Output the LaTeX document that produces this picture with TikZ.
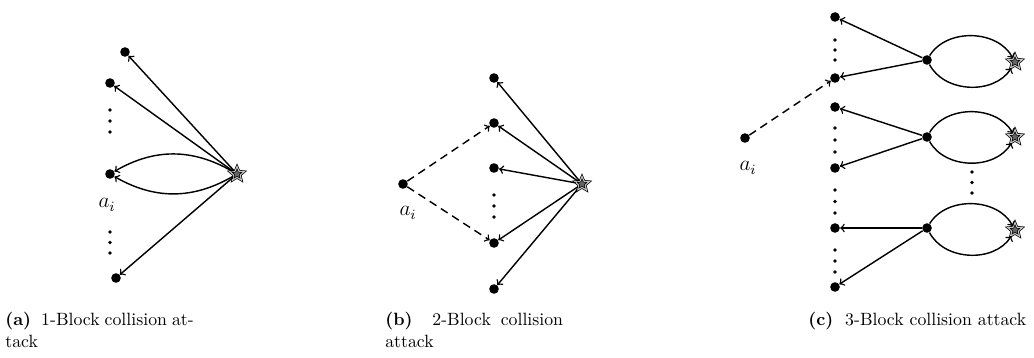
\documentclass[tikz,border=0pt]{standalone}
\usepackage{tikz}
\usetikzlibrary{arrows,shapes.geometric,positioning}
\tikzset{
  >=to,
  pt/.style={circle,fill=black,inner sep=0pt,minimum size=5.4pt},
  target/.style={star,star points=5,star point ratio=2.2,draw,double=gray!45,double distance=0.6pt,fill=gray!80!black,inner sep=0pt,minimum size=8.5pt},
  edge/.style={->,line width=0.8pt},
  guess/.style={edge,dash pattern=on 4.5pt off 3pt},
  lbl/.style={inner sep=0pt,font=\large},
  cap/.style={anchor=north west,inner sep=0pt,text width=#1,align=justify}
}
\newcommand{\vdotcol}[3]{\foreach \k in {0,1,2} \fill ({#1},{#2+\k*(#3-#2)/2}) circle (1.1pt);}

\begin{document}
\begin{tikzpicture}[x=0.5625pt,y=-0.5625pt]
  \useasboundingbox (0,0) rectangle (1034,358);

  % (a) 1-block
  \node[pt] (a1) at (125,52) {};
  \node[pt] (a2) at (110,83) {};
  \node[pt] (ai) at (110,174) {};
  \node[pt] (an) at (116,278) {};
  \node[target] (sa) at (237,174) {};
  \node[lbl] (lai) at (107,205) {$a_i$};
  \vdotcol{110}{110}{132}
  \vdotcol{110}{232}{253}

  \draw[edge] (sa) -- (a1);
  \draw[edge] (sa) -- (a2);
  \draw[edge] (sa) to[bend right=30] (ai);
  \draw[edge] (sa) to[bend left=30] (ai);
  \draw[edge] (sa) -- (an);

  % (b) 2-block
  \node[pt] (bi) at (403,184) {};
  \node[lbl] (lbi) at (408,213) {$a_i$};
  \node[pt] (b1) at (494,78) {};
  \node[pt] (b2) at (494,123) {};
  \node[pt] (b3) at (494,168) {};
  \node[pt] (b4) at (494,243) {};
  \node[pt] (b5) at (494,289) {};
  \node[target] (sb) at (582,184) {};
  \vdotcol{494}{195}{217}

  \draw[guess] (bi) -- (b2);
  \draw[guess] (bi) -- (b4);
  \draw[edge] (sb) -- (b1);
  \draw[edge] (sb) -- (b2);
  \draw[edge] (sb) -- (b3);
  \draw[edge] (sb) -- (b4);
  \draw[edge] (sb) -- (b5);

  % (c) 3-block
  \node[pt] (ci) at (745,138) {};
  \node[lbl] (lci) at (748,168) {$a_i$};
  \node[pt] (c1) at (835,17) {};
  \node[pt] (c2) at (835,78) {};
  \node[pt] (c3) at (835,107) {};
  \node[pt] (c4) at (835,168) {};
  \node[pt] (c5) at (835,228) {};
  \node[pt] (c6) at (835,287) {};
  \node[pt] (m1) at (927,60) {};
  \node[pt] (m2) at (927,137) {};
  \node[pt] (m3) at (927,228) {};
  \node[target] (s1) at (1015,62) {};
  \node[target] (s2) at (1015,137) {};
  \node[target] (s3) at (1015,230) {};
  \vdotcol{835}{40}{60}
  \vdotcol{835}{128}{152}
  \vdotcol{835}{190}{213}
  \vdotcol{835}{250}{272}
  \vdotcol{972}{172}{193}

  \draw[guess] (ci) -- (c2);
  \draw[edge] (m1) -- (c1);
  \draw[edge] (m1) -- (c2);
  \draw[edge] (m2) -- (c3);
  \draw[edge] (m2) -- (c4);
  \draw[edge] (m3) -- (c5);
  \draw[edge] (m3) -- (c6);
  \draw[edge] (m1) to[bend left=60] (s1);
  \draw[edge] (m1) to[bend right=60] (s1);
  \draw[edge] (m2) to[bend left=60] (s2);
  \draw[edge] (m2) to[bend right=60] (s2);
  \draw[edge] (m3) to[bend left=60] (s3);
  \draw[edge] (m3) to[bend right=60] (s3);

  % captions
  \node[cap=106pt] (capa) at (5,312) {\textbf{(a)}\ \ 1-Block collision at-\linebreak tack};
  \node[cap=100pt] (capb) at (385,312) {\textbf{(b)}\ \ 2-Block collision\linebreak attack};
  \node[cap=130pt,align=left] (capc) at (808,312) {\textbf{(c)}\ \ 3-Block collision attack};
\end{tikzpicture}
\end{document}
